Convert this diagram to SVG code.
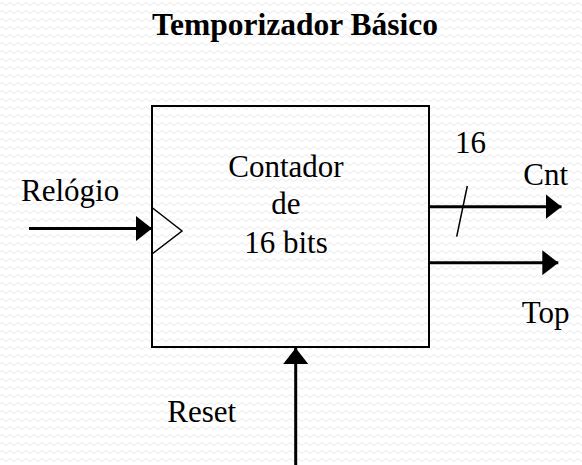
<svg xmlns="http://www.w3.org/2000/svg" width="582" height="465" viewBox="0 0 582 465">
<style>
text{font-family:"Liberation Serif","Times New Roman",serif;font-size:31px;fill:#000}
.title{font-weight:bold;font-size:31.5px}
.box{fill:none;stroke:#000;stroke-width:2}
.wire{stroke:#000;stroke-width:3;fill:none}
.thin{stroke:#000;stroke-width:1.5;fill:none}
</style>
<defs>
<pattern id="bg" width="8" height="8" patternUnits="userSpaceOnUse">
<path d="M0,4 Q2,1 4,4 T8,4" fill="none" stroke="#e9e9e9" stroke-width="1"/>
</pattern>
<marker id="ah" markerUnits="userSpaceOnUse" markerWidth="16" markerHeight="25" refX="16" refY="12.5" orient="auto">
<path d="M0,0 L16,12.5 L0,25 z" fill="#000"/>
</marker>
</defs>
<rect width="582" height="465" fill="#fff"/>
<rect width="582" height="465" fill="url(#bg)"/>
<text class="title" x="295" y="34.5" text-anchor="middle">Temporizador Básico</text>
<g id="contador">
<rect class="box" x="152" y="106" width="277" height="241"/>
<polygon class="thin" points="152,207.5 182,231 152,254"/>
<text x="286" y="176.7" text-anchor="middle">Contador</text>
<text x="286" y="214.3" text-anchor="middle">de</text>
<text x="286" y="253.3" text-anchor="middle">16 bits</text>
</g>
<g id="connectors">
<line class="wire" x1="29" y1="228.5" x2="152" y2="228.5" marker-end="url(#ah)"/>
<line class="wire" x1="429" y1="206.7" x2="561.5" y2="206.7" marker-end="url(#ah)"/>
<line class="thin" x1="467.3" y1="186" x2="456.7" y2="236.7"/>
<line class="wire" x1="429" y1="262.7" x2="558.3" y2="262.7" marker-end="url(#ah)"/>
<line class="wire" x1="295.7" y1="465" x2="295.7" y2="348" marker-end="url(#ah)"/>
</g>
<g id="labels">
<text x="21" y="200.7">Relógio</text>
<text x="455" y="153.3">16</text>
<text x="523.3" y="185">Cnt</text>
<text x="521.7" y="323.3">Top</text>
<text x="167.3" y="421.7">Reset</text>
</g>
</svg>
